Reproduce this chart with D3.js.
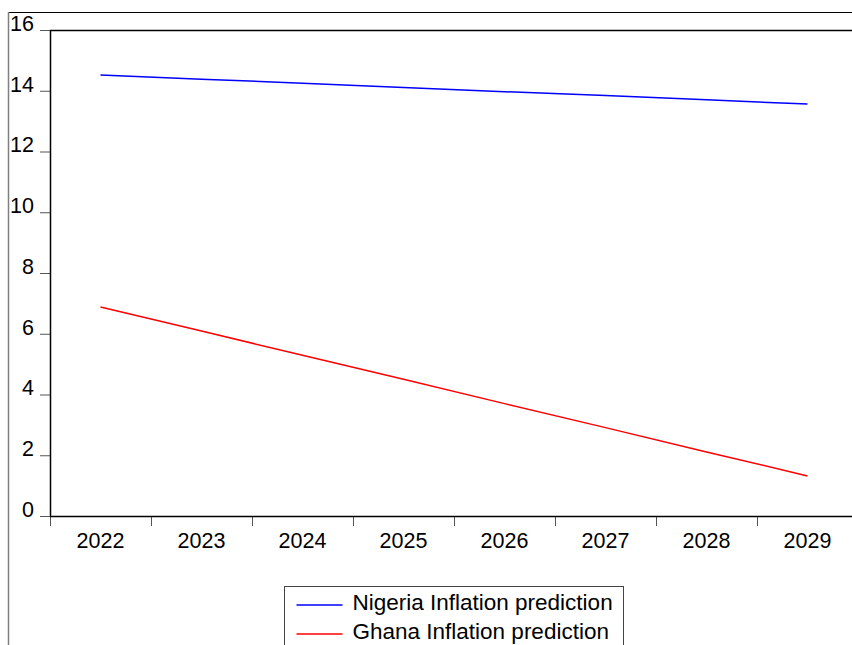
<!DOCTYPE html>
<html>
<head>
<meta charset="utf-8">
<script src="https://cdn.jsdelivr.net/npm/d3@7"></script>
<style>
  body { margin: 0; background: #fff; }
  text { font-family: "Liberation Sans", Arial, sans-serif; }
</style>
</head>
<body>
<div id="canvas"></div>
<script>
"use strict";

let years = ["2022", "2023", "2024", "2025", "2026", "2027", "2028", "2029"];
let nigeria = [14.52, 14.38, 14.25, 14.11, 13.97, 13.84, 13.70, 13.56];
let ghana = [6.88, 6.09, 5.29, 4.50, 3.70, 2.91, 2.11, 1.32];
let yTicks = [0, 2, 4, 6, 8, 10, 12, 14, 16];
let seriesNames = ["Nigeria Inflation prediction", "Ghana Inflation prediction"];

let svgWidth = 852;
let svgHeight = 645;

let plot = { left: 50, top: 30, right: 858, bottom: 516 };

let svg = d3.select("#canvas")
    .append("svg")
    .attr("width", svgWidth)
    .attr("height", svgHeight);

/* ---- outer frame (cropped) ---- */
svg.append("line")
    .attr("x1", 8).attr("y1", 12.5).attr("x2", svgWidth).attr("y2", 12.5)
    .attr("stroke", "#000").attr("stroke-width", 1);
svg.append("line")
    .attr("x1", 8.5).attr("y1", 12).attr("x2", 8.5).attr("y2", svgHeight)
    .attr("stroke", "#808080").attr("stroke-width", 1.5);

/* ---- scales ---- */
let xScale = d3.scaleBand()
    .domain(years)
    .range([plot.left, plot.right]);

let yScale = d3.scaleLinear()
    .domain([0, 16])
    .range([plot.bottom, plot.top]);

/* ---- y axis ---- */
let yAxis = d3.axisLeft(yScale)
    .tickValues(yTicks)
    .tickSize(10)
    .tickPadding(6);

let yG = svg.append("g")
    .attr("transform", "translate(" + plot.left + ",0)")
    .call(yAxis);
yG.select(".domain").remove();
yG.selectAll(".tick line").attr("stroke", "#555");
yG.selectAll(".tick text")
    .attr("font-size", "21.5px")
    .attr("font-family", "Liberation Sans, Arial, sans-serif")
    .attr("fill", "#000")
    .attr("dy", "0.02em");

/* ---- x axis labels ---- */
let xAxis = d3.axisBottom(xScale)
    .tickSize(0)
    .tickPadding(17);

let xG = svg.append("g")
    .attr("transform", "translate(0," + plot.bottom + ")")
    .call(xAxis);
xG.select(".domain").remove();
xG.selectAll(".tick text")
    .attr("font-size", "21.5px")
    .attr("font-family", "Liberation Sans, Arial, sans-serif")
    .attr("fill", "#000");

/* x ticks at band boundaries */
svg.append("g")
    .selectAll("line")
    .data(years)
    .join("line")
    .attr("x1", d => Math.round(xScale(d)) + 0.5)
    .attr("x2", d => Math.round(xScale(d)) + 0.5)
    .attr("y1", plot.bottom)
    .attr("y2", plot.bottom + 10)
    .attr("stroke", "#555");

/* ---- plot frame ---- */
svg.append("line")
    .attr("x1", plot.left).attr("y1", plot.top + 0.5)
    .attr("x2", plot.right).attr("y2", plot.top + 0.5)
    .attr("stroke", "#000").attr("stroke-width", 1.5);
svg.append("line")
    .attr("x1", plot.left + 0.5).attr("y1", plot.top)
    .attr("x2", plot.left + 0.5).attr("y2", plot.bottom)
    .attr("stroke", "#000").attr("stroke-width", 1.5);
svg.append("line")
    .attr("x1", plot.left).attr("y1", plot.bottom + 0.5)
    .attr("x2", plot.right).attr("y2", plot.bottom + 0.5)
    .attr("stroke", "#000").attr("stroke-width", 1.5);

/* ---- lines ---- */
let line = d3.line()
    .x((d, i) => xScale(years[i]) + xScale.bandwidth() / 2)
    .y(d => yScale(d));

svg.append("path")
    .datum(nigeria)
    .attr("d", line)
    .attr("fill", "none")
    .attr("stroke", "#0000ff")
    .attr("stroke-width", 1.5);

svg.append("path")
    .datum(ghana)
    .attr("d", line)
    .attr("fill", "none")
    .attr("stroke", "#ff0000")
    .attr("stroke-width", 1.5);

/* ---- legend ---- */
let legendX = 284.5;
let legendY = 586.5;
let legendColors = ["#0000ff", "#ff0000"];

svg.append("rect")
    .attr("x", legendX)
    .attr("y", legendY)
    .attr("width", 339)
    .attr("height", 80)
    .attr("fill", "#fff")
    .attr("stroke", "#444")
    .attr("stroke-width", 1);

seriesNames.forEach(function (name, i) {
    let ly = legendY + 18.5 + i * 29;
    svg.append("line")
        .attr("x1", legendX + 12)
        .attr("x2", legendX + 58)
        .attr("y1", ly)
        .attr("y2", ly)
        .attr("stroke", legendColors[i])
        .attr("stroke-width", 1.5);
    svg.append("text")
        .attr("x", legendX + 68)
        .attr("y", ly + 5)
        .attr("font-size", "22.5px")
        .attr("fill", "#000")
        .text(name);
});
</script>
</body>
</html>
